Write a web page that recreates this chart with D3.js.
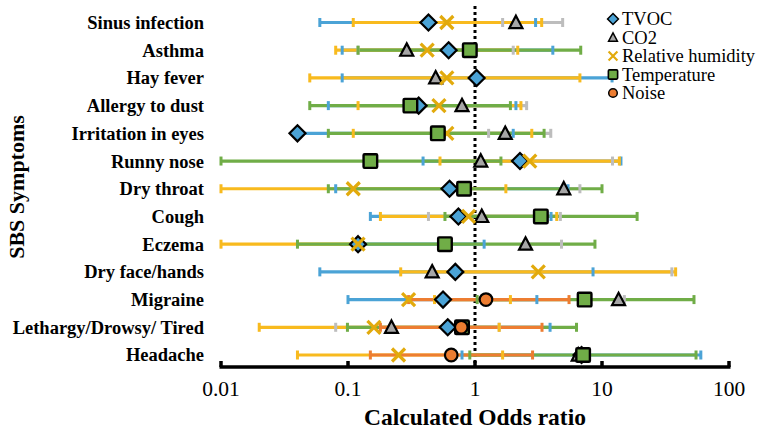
<!DOCTYPE html>
<html><head><meta charset="utf-8">
<script src="https://cdn.jsdelivr.net/npm/d3@7"></script>
<style>body{margin:0;background:#fff}svg{display:block}text{font-family:"Liberation Serif","Times New Roman",serif}</style>
</head><body><div id="chart"></div>
<script>
const categories = ["Sinus infection","Asthma","Hay fever","Allergy to dust","Irritation in eyes","Runny nose","Dry throat","Cough","Eczema","Dry face/hands","Migraine","Lethargy/Drowsy/ Tired","Headache"];
const xTicks = [0.01, 0.1, 1, 10, 100];
const xTickLabels = ["0.01","0.1","1","10","100"];
const seriesNames = ["TVOC","CO2","Relative humidity","Temperature","Noise"];

const tvocOR  = [0.43, 0.62, 1.03, 0.36, 0.04, 2.26, 0.63, 0.74, 0.12, 0.70, 0.56, 0.61, 6.9];
const tvocLo  = [0.06, 0.09, 0.09, 0.07, 0.04, 0.39, 0.08, 0.15, null, 0.06, 0.10, null, 0.79];
const tvocHi  = [3.0, 4.1, 12, 2.1, 2.0, 14.1, 5.4, 3.97, 1.18, 8.5, 3.07, 3.9, 60];

const co2OR   = [2.1, 0.29, 0.49, 0.79, 1.73, 1.11, 5.0, 1.13, 2.5, 0.46, 13.5, 0.22, 6.5];
const co2Lo   = [1.65, 0.12, null, null, 1.28, null, null, 0.43, null, null, null, 0.08, null];
const co2Hi   = [4.9, 2.0, null, 2.55, 3.95, 12.1, 6.7, 4.7, 4.8, 35.5, 15, 1.55, null];

const rhOR    = [0.6, 0.42, 0.6, 0.52, 0.6, 2.7, 0.11, 0.89, 0.12, 3.15, 0.30, 0.16, 0.25];
const rhLo    = [0.11, 0.08, 0.05, 0.12, 0.11, 0.53, 0.01, 0.18, 0.01, 0.26, 0.48, 0.02, 0.04];
const rhHi    = [3.35, 2.17, 6.7, 2.3, 2.8, 13.7, 1.75, 4.4, null, 38, 1.9, 1.55, 1.65];

const tempOR  = [null, 0.91, null, 0.31, 0.51, 0.15, 0.82, 3.3, 0.58, null, 7.3, 0.79, 7.1];
const tempLo  = [null, 0.12, null, 0.05, 0.07, 0.01, 0.07, 0.58, 0.04, null, 1.04, 0.099, 0.91];
const tempHi  = [null, 6.8, null, 1.9, 3.5, 1.6, 10, 18.9, 8.8, null, 53, 6.3, 55];

const noiseOR = [null, null, null, null, null, null, null, null, null, null, 1.22, 0.78, 0.65];
const noiseLo = [null, null, null, null, null, null, null, null, null, null, 0.30, 0.18, 0.15];
const noiseHi = [null, null, null, null, null, null, null, null, null, null, 5.5, 3.37, 2.84];

const series = [
  {name: seriesNames[0], or: tvocOR, lo: tvocLo, hi: tvocHi, line: "#4BA3D6", cap: "#4BA3D6", fill: "#4BA3D6", shape: "diamond"},
  {name: seriesNames[1], or: co2OR, lo: co2Lo, hi: co2Hi, line: "#BDBDBD", cap: "#BDBDBD", fill: "#A6A6A6", shape: "triangle"},
  {name: seriesNames[2], or: rhOR, lo: rhLo, hi: rhHi, line: "#F8BA1E", cap: "#F8BA1E", fill: "#E2AA0C", shape: "cross"},
  {name: seriesNames[3], or: tempOR, lo: tempLo, hi: tempHi, line: "#70AD47", cap: "#70AD47", fill: "#70AD47", shape: "square"},
  {name: seriesNames[4], or: noiseOR, lo: noiseLo, hi: noiseHi, line: "#ED7D31", cap: "#ED7D31", fill: "#ED7D31", shape: "circle"}
];

const W = 759, H = 432;
const svg = d3.select("#chart").append("svg").attr("width", W).attr("height", H)
  .attr("font-family", "'Liberation Serif','Times New Roman',serif");
const x = d3.scaleLog().domain([0.01, 100]).range([221, 729]);
const y = d3.scalePoint().domain(categories).range([22.5, 355]);
const axisY = 367;

// category labels
svg.append("g").selectAll("text").data(categories).join("text")
  .attr("x", 204).attr("y", d => y(d)).attr("dy", "0.35em")
  .attr("text-anchor", "end").attr("font-weight", "bold").attr("font-size", 18.5)
  .attr("fill", "#000").text(d => d);

// y title
svg.append("text").attr("transform", "translate(24,187) rotate(-90)")
  .attr("text-anchor", "middle").attr("font-weight", "bold").attr("font-size", 22).text("SBS Symptoms");

// reference line at OR = 1
svg.append("line").attr("x1", x(1)).attr("x2", x(1)).attr("y1", 6).attr("y2", axisY)
  .attr("stroke", "#000").attr("stroke-width", 3).attr("stroke-dasharray", "3,3");

// error bar lines
const gLines = svg.append("g");
series.forEach(s => {
  categories.forEach((c, i) => {
    const p = s.or[i];
    if (p == null) return;
    const lo = s.lo[i] != null ? s.lo[i] : p;
    const hi = s.hi[i] != null ? s.hi[i] : p;
    if (lo === hi) return;
    gLines.append("line").attr("x1", x(lo)).attr("x2", x(hi)).attr("y1", y(c)).attr("y2", y(c))
      .attr("stroke", s.line).attr("stroke-width", 3.2);
  });
});
// caps
const gCaps = svg.append("g");
series.forEach(s => {
  categories.forEach((c, i) => {
    if (s.or[i] == null) return;
    [s.lo[i], s.hi[i]].forEach(v => {
      if (v == null) return;
      gCaps.append("rect").attr("x", x(v) - 1.5).attr("y", y(c) - 4.5).attr("width", 3).attr("height", 9)
        .attr("fill", s.cap);
    });
  });
});

function drawMarker(g, shape, cx, cy, fill, scale) {
  const k = scale || 1;
  if (shape === "diamond") {
    const r = 8 * k;
    g.append("path").attr("d", `M${cx},${cy - r}L${cx + r},${cy}L${cx},${cy + r}L${cx - r},${cy}Z`)
      .attr("fill", fill).attr("stroke", "#000").attr("stroke-width", 2.2 * k).attr("stroke-linejoin", "miter");
  } else if (shape === "triangle") {
    const r = 6.5 * k;
    g.append("path").attr("d", `M${cx},${cy - r * 1.05}L${cx + r},${cy + r * 0.85}L${cx - r},${cy + r * 0.85}Z`)
      .attr("fill", fill).attr("stroke", "#000").attr("stroke-width", 2.2 * k).attr("stroke-linejoin", "miter");
  } else if (shape === "square") {
    const r = 6.8 * k;
    g.append("rect").attr("x", cx - r).attr("y", cy - r).attr("width", 2 * r).attr("height", 2 * r)
      .attr("fill", fill).attr("stroke", "#000").attr("stroke-width", 2.4 * k).attr("rx", 1);
  } else if (shape === "circle") {
    g.append("circle").attr("cx", cx).attr("cy", cy).attr("r", 6.3 * k)
      .attr("fill", fill).attr("stroke", "#000").attr("stroke-width", 2.2 * k);
  } else if (shape === "cross") {
    const r = 6.5 * k;
    g.append("path").attr("d", `M${cx - r},${cy - r}L${cx + r},${cy + r}M${cx - r},${cy + r}L${cx + r},${cy - r}`)
      .attr("stroke", fill).attr("stroke-width", 3.2 * k).attr("fill", "none");
  }
}

// markers
const gMarks = svg.append("g");
series.forEach(s => {
  categories.forEach((c, i) => {
    if (s.or[i] == null) return;
    drawMarker(gMarks, s.shape, x(s.or[i]), y(c), s.fill, 1);
  });
});

// x axis
svg.append("line").attr("x1", x(0.01) - 1.5).attr("x2", x(100) + 1.5).attr("y1", axisY).attr("y2", axisY)
  .attr("stroke", "#000").attr("stroke-width", 3.5);
svg.append("g").selectAll("line").data(xTicks).join("line")
  .attr("x1", d => x(d)).attr("x2", d => x(d)).attr("y1", axisY).attr("y2", axisY - 6)
  .attr("stroke", "#000").attr("stroke-width", 3.5);
svg.append("g").selectAll("text").data(xTicks).join("text")
  .attr("x", d => x(d)).attr("y", 396).attr("text-anchor", "middle").attr("font-size", 21.5)
  .text((d, i) => xTickLabels[i]);
svg.append("text").attr("x", x(1)).attr("y", 425).attr("text-anchor", "middle")
  .attr("font-weight", "bold").attr("font-size", 23.5).text("Calculated Odds ratio");

// legend
const lg = svg.append("g");
series.forEach((s, i) => {
  const ly = 19 + i * 18.5;
  drawMarker(lg, s.shape, 613, ly, s.fill, 0.68);
  lg.append("text").attr("x", 622).attr("y", ly).attr("dy", "0.35em").attr("font-size", 18.5).text(s.name);
});
</script></body></html>
